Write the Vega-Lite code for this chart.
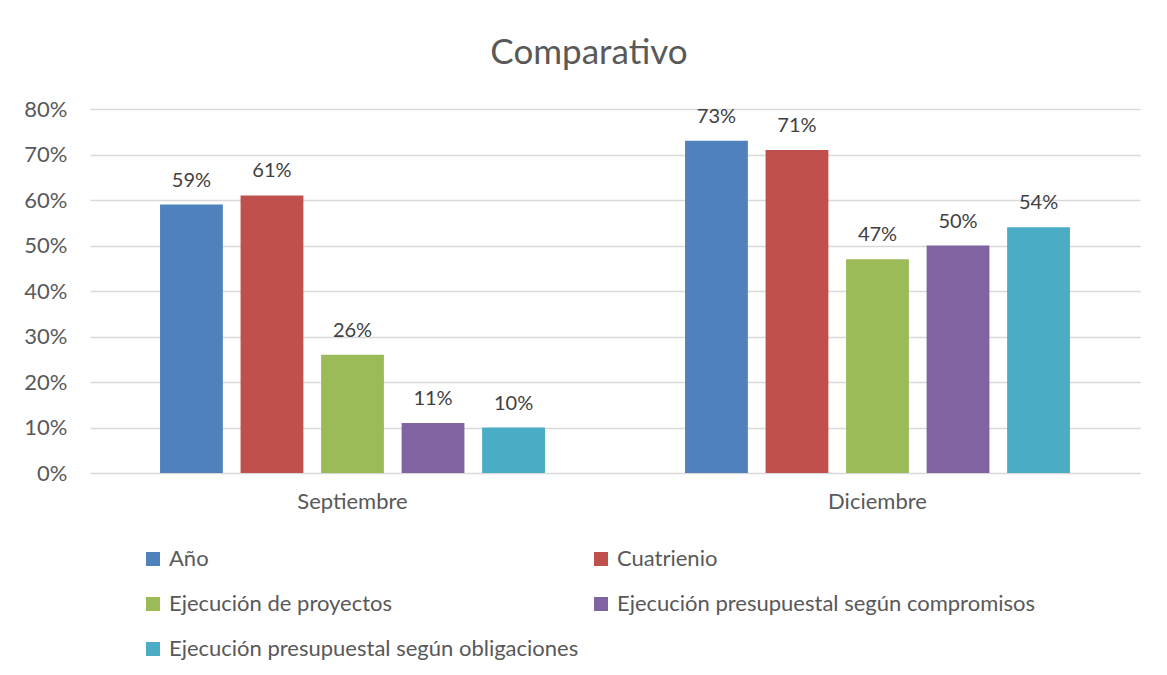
{
  "$schema": "https://vega.github.io/schema/vega-lite/v6.json",
  "autosize": {"type": "none"},
  "width": 1050,
  "height": 364,
  "padding": {"left": 90, "top": 109, "right": 27, "bottom": 202},
  "background": "white",
  "config": {
    "font": "Lato",
    "view": {"stroke": null},
    "axis": {"labelFont": "Lato", "labelColor": "#595959", "labelFontSize": 22}
  },
  "title": {
    "text": "Comparativo",
    "fontSize": 35,
    "fontWeight": "normal",
    "color": "#595959",
    "font": "Lato",
    "anchor": "middle",
    "dx": -26,
    "offset": 27
  },
  "data": {
    "values": [
      {"mes": "Septiembre", "serie": "Año", "valor": 0.59},
      {"mes": "Septiembre", "serie": "Cuatrienio", "valor": 0.61},
      {"mes": "Septiembre", "serie": "Ejecución de proyectos", "valor": 0.26},
      {"mes": "Septiembre", "serie": "Ejecución presupuestal según compromisos", "valor": 0.11},
      {"mes": "Septiembre", "serie": "Ejecución presupuestal según obligaciones", "valor": 0.10},
      {"mes": "Diciembre", "serie": "Año", "valor": 0.73},
      {"mes": "Diciembre", "serie": "Cuatrienio", "valor": 0.71},
      {"mes": "Diciembre", "serie": "Ejecución de proyectos", "valor": 0.47},
      {"mes": "Diciembre", "serie": "Ejecución presupuestal según compromisos", "valor": 0.50},
      {"mes": "Diciembre", "serie": "Ejecución presupuestal según obligaciones", "valor": 0.54}
    ]
  },
  "encoding": {
    "x": {
      "field": "mes",
      "type": "nominal",
      "sort": ["Septiembre", "Diciembre"],
      "scale": {"paddingInner": 0, "paddingOuter": 0},
      "axis": {"title": null, "labelAngle": 0, "ticks": false, "domain": false, "labelPadding": 18, "labelFontSize": 22, "labelColor": "#595959", "labelFont": "Lato"}
    },
    "xOffset": {
      "field": "serie",
      "type": "nominal",
      "sort": ["Año", "Cuatrienio", "Ejecución de proyectos", "Ejecución presupuestal según compromisos", "Ejecución presupuestal según obligaciones"],
      "scale": {"paddingInner": 0.22, "paddingOuter": 0.87}
    },
    "y": {
      "field": "valor",
      "type": "quantitative",
      "scale": {"domain": [0, 0.8]},
      "axis": {
        "title": null,
        "format": ".0%",
        "values": [0, 0.1, 0.2, 0.3, 0.4, 0.5, 0.6, 0.7, 0.8],
        "domain": false,
        "ticks": false,
        "labelPadding": 23,
        "labelFontSize": 22,
        "gridColor": "#d9d9d9",
        "gridWidth": 1.3
      }
    }
  },
  "layer": [
    {
      "mark": {"type": "bar"},
      "encoding": {
        "color": {
          "field": "serie",
          "type": "nominal",
          "sort": ["Año", "Cuatrienio", "Ejecución de proyectos", "Ejecución presupuestal según compromisos", "Ejecución presupuestal según obligaciones"],
          "scale": {
            "domain": ["Año", "Cuatrienio", "Ejecución de proyectos", "Ejecución presupuestal según compromisos", "Ejecución presupuestal según obligaciones"],
            "range": ["#4F81BD", "#C0504D", "#9BBB59", "#8064A2", "#4BACC6"]
          },
          "legend": {
            "title": null,
            "orient": "none",
            "legendX": 52,
            "legendY": 439,
            "columns": 2,
            "direction": "horizontal",
            "symbolType": "square",
            "symbolSize": 196,
            "symbolStrokeWidth": 0,
            "symbolOpacity": 1,
            "labelFontSize": 22,
            "labelColor": "#595959",
            "labelFont": "Lato",
            "labelOffset": 5,
            "labelLimit": 600,
            "rowPadding": 23,
            "columnPadding": 11,
            "padding": 0
          }
        }
      }
    },
    {
      "mark": {"type": "text", "baseline": "alphabetic", "dy": -18, "fontSize": 20, "color": "#404040", "font": "Lato"},
      "encoding": {
        "text": {"field": "valor", "type": "quantitative", "format": ".0%"}
      }
    }
  ]
}
